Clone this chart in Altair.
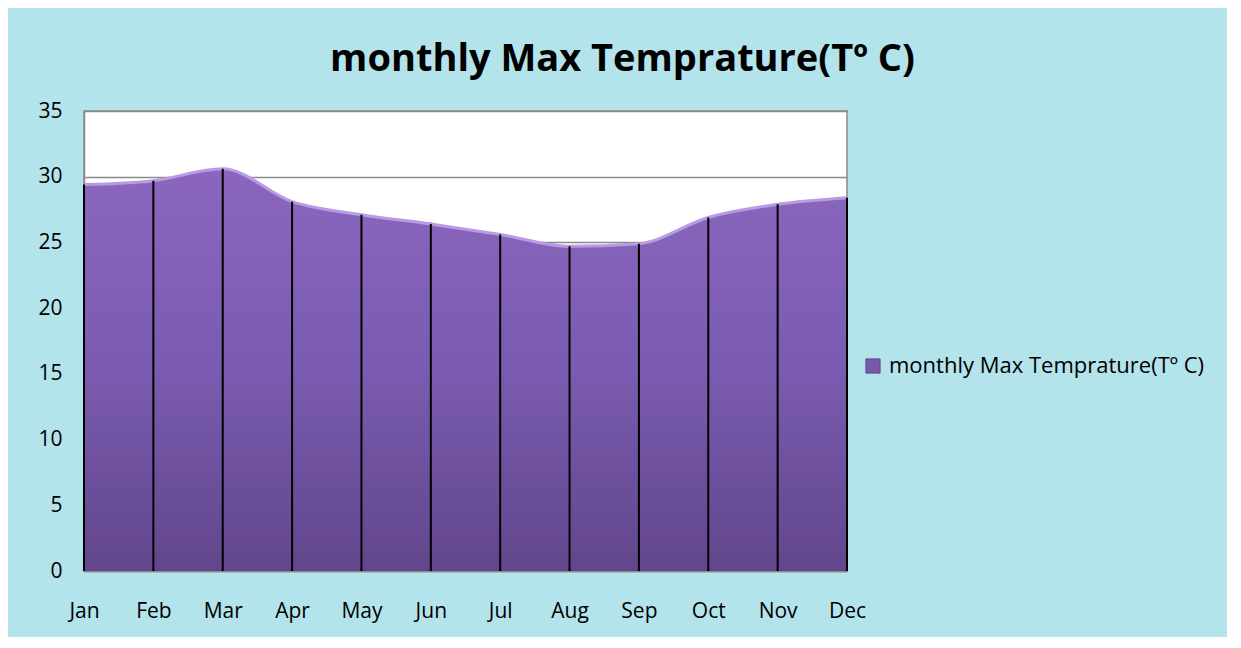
import altair as alt
import pandas as pd

months = ["Jan", "Feb", "Mar", "Apr", "May", "Jun", "Jul", "Aug", "Sep", "Oct", "Nov", "Dec"]
max_temp = [29.4, 29.7, 30.6, 28.1, 27.1, 26.4, 25.6, 24.7, 24.9, 26.9, 27.9, 28.4]
series_name = "monthly Max Temprature(Tº C)"
y_ticks = [0, 5, 10, 15, 20, 25, 30, 35]

df = pd.DataFrame({"month": months, "temp": max_temp, "series": series_name})

FONT = "Open Sans"

x = alt.X("month:N", sort=months, scale=alt.Scale(type="point", padding=0),
          axis=alt.Axis(title=None, labelAngle=0, ticks=False, labelPadding=29,
                        labelFontSize=21, labelColor="#000", labelFont=FONT,
                        domainColor="#8a8a8a", domainWidth=1.5, grid=False))
y = alt.Y("temp:Q", scale=alt.Scale(domain=[0, 35], nice=False),
          axis=alt.Axis(title=None, values=y_ticks, ticks=False, labelPadding=22,
                        labelFontSize=21, labelColor="#000", labelFont=FONT,
                        grid=True, gridColor="#8a8a8a", gridWidth=1.5,
                        domainColor="#8a8a8a", domainWidth=1.5))

base = alt.Chart(df)

legend_pt = base.transform_filter(alt.datum.month == "Jun").mark_square(size=10, opacity=1).encode(
    x=x, y=alt.Y("temp:Q"),
    color=alt.Color("series:N", scale=alt.Scale(range=["#7a59ad"]),
                    legend=alt.Legend(title=None, orient="none", legendX=778, legendY=244,
                                      symbolType="square", symbolSize=200,
                                      labelFontSize=22, labelFont=FONT, labelColor="#000",
                                      labelLimit=400, symbolStrokeColor="#5e4388",
                                      symbolStrokeWidth=1, labelOffset=5))
)

grad = alt.Gradient(gradient="linear",
                    stops=[alt.GradientStop(color="#8a67bd", offset=0),
                           alt.GradientStop(color="#7a5bb0", offset=0.5),
                           alt.GradientStop(color="#62468c", offset=1)],
                    x1=1, x2=1, y1=0, y2=1)

area = base.mark_area(interpolate="monotone", fill=grad).encode(x=x, y=y)
edge = base.mark_line(interpolate="monotone", color="#b89be2", strokeWidth=3).encode(x=x, y="temp:Q")
rules = base.mark_rule(color="#000", strokeWidth=2).encode(x=x, y="temp:Q", y2=alt.datum(0))

chart = alt.layer(legend_pt, area, edge, rules).properties(
    width=763, height=460,
    autosize=alt.AutoSizeParams(type="none"),
    padding={"left": 76, "top": 103, "right": 380, "bottom": 66},
    background="#b3e3eb",
    title=alt.Title(series_name, fontSize=38, font=FONT, fontWeight="bold",
                    color="#000", anchor="middle", dx=157, offset=21),
).configure_view(fill="#ffffff", stroke="#8a8a8a", strokeWidth=1.5)

chart.save("out.html", embed_options={"renderer": "svg", "actions": False})
